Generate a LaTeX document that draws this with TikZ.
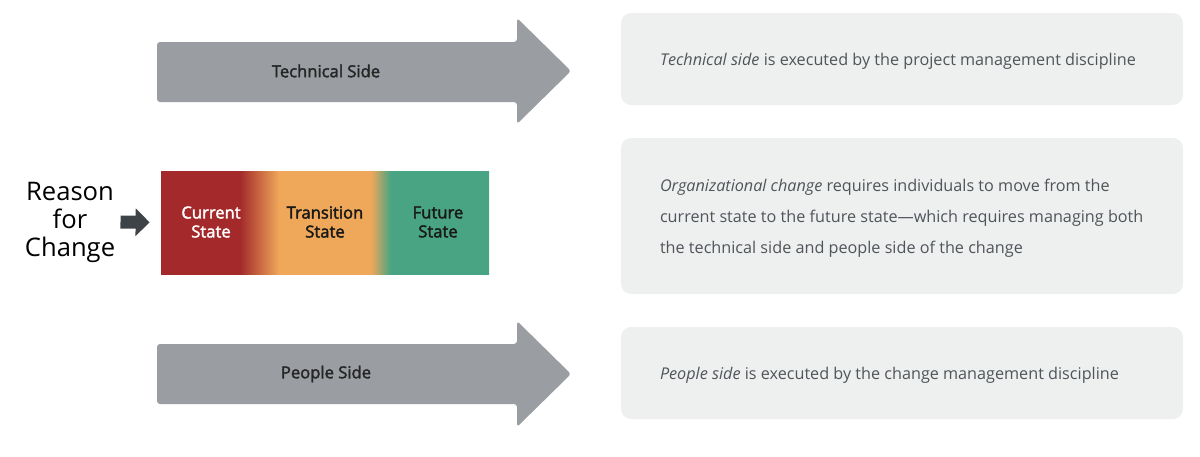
\documentclass[tikz,border=0pt]{standalone}
\usepackage{fontspec}
\setmainfont{Open Sans}
\newfontfamily\medfont[FakeBold=2.2]{Open Sans}
\usepackage{xcolor}
\usetikzlibrary{arrows.meta, positioning}

\definecolor{sidegray}{HTML}{9A9DA2}
\definecolor{boxgray}{HTML}{EEEFEF}
\definecolor{descgray}{HTML}{50555A}
\definecolor{pointer}{HTML}{3E4347}
\definecolor{crimson}{HTML}{A3292A}
\definecolor{amber}{HTML}{EFA75A}
\definecolor{jade}{HTML}{48A483}

\pgfdeclarehorizontalshading{statechange}{100bp}{color(0bp)=(crimson); color(37bp)=(crimson);
  color(43bp)=(amber); color(57bp)=(amber); color(60bp)=(jade); color(100bp)=(jade)}

\begin{document}
\begin{tikzpicture}[
  x=0.5pt, y=-0.5pt,
  sidearrow/.style={fill=sidegray, rounded corners=1.5pt},
  sidelabel/.style={font=\medfont\fontsize{8.3}{10}\selectfont, text=black!85},
  descbox/.style={fill=boxgray, rounded corners=5pt, minimum width=281pt},
  desc/.style={font=\fontsize{8.1}{15.5}\selectfont, text=descgray, align=left, anchor=west, inner sep=0pt},
  statelabel/.style={font=\medfont\fontsize{8.3}{9.5}\selectfont, align=center},
  arr/.style={line width=6.5pt, -{Triangle[length=7pt, width=13.5pt]}, pointer}
]
\useasboundingbox (0,0) rectangle (1200,456);

% side arrows
\path[sidearrow] (157,42) -- (517,42) -- (517,18) -- (571,71) -- (517,124) -- (517,102) -- (157,102) -- cycle;
\node[sidelabel] (tech) at (326,71) {Technical Side};
\path[sidearrow] (157,344) -- (517,344) -- (517,321) -- (571,374) -- (517,427) -- (517,404) -- (157,404) -- cycle;
\node[sidelabel] (people) at (326,374) {People Side};

% states
\node[shade, shading=statechange, minimum width=164pt, minimum height=51.5pt, inner sep=0pt] (grad) at (325,222.5) {};
\node[statelabel, text=white] (current) at (211,222) {Current\\State};
\node[statelabel, text=black!90] (transition) at (325,222) {Transition\\State};
\node[statelabel, text=black!90] (future) at (438,222) {Future\\State};

\node[font=\fontsize{12.8}{14}\selectfont, align=center, inner sep=0pt] (reason) at (70,222) {Reason\\for\\Change};
\draw[arr, shorten <=2.5pt, shorten >=5.5pt] (reason.east) -- (grad.west);

% descriptions
\node[descbox, minimum height=46pt] (techbox) at (902,59) {};
\node[desc] (techdesc) at ([xshift=19.5pt, yshift=-1pt]techbox.west) {\textit{Technical side} is executed by the project management discipline};
\node[descbox, minimum height=78pt] (orgbox) at (902,216) {};
\node[desc] (orgdesc) at ([xshift=19.5pt, yshift=-1pt]orgbox.west) {\textit{Organizational change} requires individuals to move from the\\current state to the future state—which requires managing both\\the technical side and people side of the change};
\node[descbox, minimum height=46pt] (peoplebox) at (902,373) {};
\node[desc] (peopledesc) at ([xshift=19.5pt, yshift=-1pt]peoplebox.west) {\textit{People side} is executed by the change management discipline};
\end{tikzpicture}
\end{document}
